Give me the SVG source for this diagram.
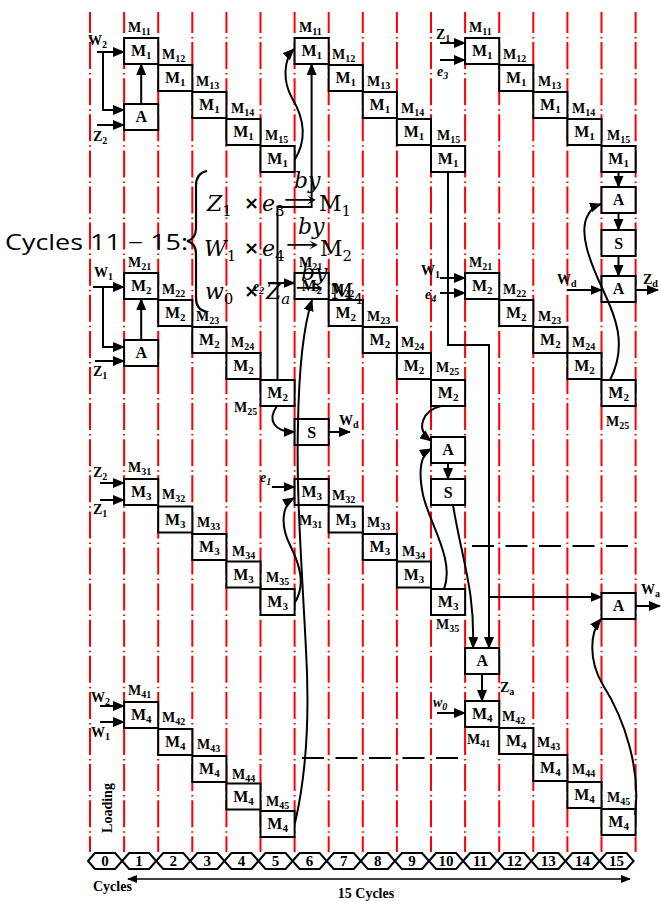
<svg xmlns="http://www.w3.org/2000/svg" width="661" height="901" viewBox="0 0 661 901">
<style>
.vl{stroke:#ff0000;stroke-width:2;stroke-dasharray:27 4 1.5 3.6;stroke-dashoffset:6}
.bx{fill:#fff;stroke:#000;stroke-width:2}
.bt{font-family:"Liberation Serif",serif;font-weight:bold;font-size:16px;text-anchor:middle}
.bs{font-size:11px}
.lb{font-family:"Liberation Serif",serif;font-weight:bold;font-size:14px}
.ls{font-size:10px}
.it{font-style:italic}
.cn{fill:none;stroke:#000;stroke-width:2}
.ar{marker-end:url(#ah)}
.hx{fill:#fff;stroke:#000;stroke-width:2}
.hn{font-family:"Liberation Serif",serif;font-weight:bold;font-size:15px;text-anchor:middle}
.dl{fill:none;stroke:#000;stroke-width:2;stroke-dasharray:22 11.5}
.eq{font-family:"DejaVu Serif",serif;font-size:22px}
.ei{font-style:italic}
.es{font-size:15px}
.ex{font-family:"DejaVu Sans",sans-serif;font-weight:bold;font-size:18px}
</style>
<defs>
<marker id="ah" markerUnits="userSpaceOnUse" markerWidth="12" markerHeight="10" refX="11" refY="5" orient="auto"><path d="M0,0 L12,5 L0,10 z" fill="#000"/></marker>
<marker id="sa" markerUnits="userSpaceOnUse" markerWidth="10" markerHeight="8" refX="9" refY="4" orient="auto-start-reverse"><path d="M0,0 L10,4 L0,8 z" fill="#000"/></marker>
</defs>
<rect width="661" height="901" fill="#fff"/>
<g id="grid">
<line class="vl" x1="90" y1="12" x2="90" y2="852"/>
<line class="vl" x1="124.1" y1="12" x2="124.1" y2="852"/>
<line class="vl" x1="158.2" y1="12" x2="158.2" y2="852"/>
<line class="vl" x1="192.3" y1="12" x2="192.3" y2="852"/>
<line class="vl" x1="226.4" y1="12" x2="226.4" y2="852"/>
<line class="vl" x1="260.5" y1="12" x2="260.5" y2="852"/>
<line class="vl" x1="294.6" y1="12" x2="294.6" y2="852"/>
<line class="vl" x1="328.7" y1="12" x2="328.7" y2="852"/>
<line class="vl" x1="362.8" y1="12" x2="362.8" y2="852"/>
<line class="vl" x1="396.9" y1="12" x2="396.9" y2="852"/>
<line class="vl" x1="431" y1="12" x2="431" y2="852"/>
<line class="vl" x1="465.1" y1="12" x2="465.1" y2="852"/>
<line class="vl" x1="499.2" y1="12" x2="499.2" y2="852"/>
<line class="vl" x1="533.3" y1="12" x2="533.3" y2="852"/>
<line class="vl" x1="567.4" y1="12" x2="567.4" y2="852"/>
<line class="vl" x1="601.5" y1="12" x2="601.5" y2="852"/>
<line class="vl" x1="635.6" y1="12" x2="635.6" y2="852"/>
</g>

<!-- Row 1 -->
<g id="r1a1"><rect class="bx" x="124.1" y="38" width="34.1" height="26"/><text class="bt" x="141.2" y="56">M<tspan class="bs" dy="3">1</tspan></text><text class="lb" x="128" y="32">M<tspan class="ls" dy="3">11</tspan></text></g>
<g id="r1a2"><rect class="bx" x="158.2" y="65" width="34.1" height="26"/><text class="bt" x="175.3" y="83">M<tspan class="bs" dy="3">1</tspan></text><text class="lb" x="162" y="59">M<tspan class="ls" dy="3">12</tspan></text></g>
<g id="r1a3"><rect class="bx" x="192.3" y="92" width="34.1" height="26"/><text class="bt" x="209.4" y="110">M<tspan class="bs" dy="3">1</tspan></text><text class="lb" x="196" y="86">M<tspan class="ls" dy="3">13</tspan></text></g>
<g id="r1a4"><rect class="bx" x="226.4" y="119" width="34.1" height="26"/><text class="bt" x="243.5" y="137">M<tspan class="bs" dy="3">1</tspan></text><text class="lb" x="231" y="113">M<tspan class="ls" dy="3">14</tspan></text></g>
<g id="r1a5"><rect class="bx" x="260.5" y="146" width="34.1" height="26"/><text class="bt" x="277.6" y="164">M<tspan class="bs" dy="3">1</tspan></text><text class="lb" x="265" y="140">M<tspan class="ls" dy="3">15</tspan></text></g>
<g id="r1b1"><rect class="bx" x="294.6" y="38" width="34.1" height="26"/><text class="bt" x="311.7" y="56">M<tspan class="bs" dy="3">1</tspan></text><text class="lb" x="299" y="32">M<tspan class="ls" dy="3">11</tspan></text></g>
<g id="r1b2"><rect class="bx" x="328.7" y="65" width="34.1" height="26"/><text class="bt" x="345.8" y="83">M<tspan class="bs" dy="3">1</tspan></text><text class="lb" x="332" y="59">M<tspan class="ls" dy="3">12</tspan></text></g>
<g id="r1b3"><rect class="bx" x="362.8" y="92" width="34.1" height="26"/><text class="bt" x="379.9" y="110">M<tspan class="bs" dy="3">1</tspan></text><text class="lb" x="367" y="86">M<tspan class="ls" dy="3">13</tspan></text></g>
<g id="r1b4"><rect class="bx" x="396.9" y="119" width="34.1" height="26"/><text class="bt" x="414" y="137">M<tspan class="bs" dy="3">1</tspan></text><text class="lb" x="401" y="113">M<tspan class="ls" dy="3">14</tspan></text></g>
<g id="r1b5"><rect class="bx" x="431" y="146" width="34.1" height="26"/><text class="bt" x="448.1" y="164">M<tspan class="bs" dy="3">1</tspan></text><text class="lb" x="437" y="140">M<tspan class="ls" dy="3">15</tspan></text></g>
<g id="r1c1"><rect class="bx" x="465.1" y="38" width="34.1" height="26"/><text class="bt" x="482.2" y="56">M<tspan class="bs" dy="3">1</tspan></text><text class="lb" x="469" y="32">M<tspan class="ls" dy="3">11</tspan></text></g>
<g id="r1c2"><rect class="bx" x="499.2" y="65" width="34.1" height="26"/><text class="bt" x="516.3" y="83">M<tspan class="bs" dy="3">1</tspan></text><text class="lb" x="503" y="59">M<tspan class="ls" dy="3">12</tspan></text></g>
<g id="r1c3"><rect class="bx" x="533.3" y="92" width="34.1" height="26"/><text class="bt" x="550.4" y="110">M<tspan class="bs" dy="3">1</tspan></text><text class="lb" x="538" y="86">M<tspan class="ls" dy="3">13</tspan></text></g>
<g id="r1c4"><rect class="bx" x="567.4" y="119" width="34.1" height="26"/><text class="bt" x="584.5" y="137">M<tspan class="bs" dy="3">1</tspan></text><text class="lb" x="572" y="113">M<tspan class="ls" dy="3">14</tspan></text></g>
<g id="r1c5"><rect class="bx" x="601.5" y="146" width="34.1" height="26"/><text class="bt" x="618.6" y="164">M<tspan class="bs" dy="3">1</tspan></text><text class="lb" x="607" y="140">M<tspan class="ls" dy="3">15</tspan></text></g>

<!-- Row 2 -->
<g id="r2a1"><rect class="bx" x="124.1" y="273" width="34.1" height="26"/><text class="bt" x="141.2" y="291">M<tspan class="bs" dy="3">2</tspan></text><text class="lb" x="128" y="267">M<tspan class="ls" dy="3">21</tspan></text></g>
<g id="r2a2"><rect class="bx" x="158.2" y="300" width="34.1" height="26"/><text class="bt" x="175.3" y="318">M<tspan class="bs" dy="3">2</tspan></text><text class="lb" x="162" y="294">M<tspan class="ls" dy="3">22</tspan></text></g>
<g id="r2a3"><rect class="bx" x="192.3" y="327" width="34.1" height="26"/><text class="bt" x="209.4" y="345">M<tspan class="bs" dy="3">2</tspan></text><text class="lb" x="196" y="321">M<tspan class="ls" dy="3">23</tspan></text></g>
<g id="r2a4"><rect class="bx" x="226.4" y="353" width="34.1" height="26"/><text class="bt" x="243.5" y="371">M<tspan class="bs" dy="3">2</tspan></text><text class="lb" x="231" y="347">M<tspan class="ls" dy="3">24</tspan></text></g>
<g id="r2a5"><rect class="bx" x="260.5" y="380" width="34.1" height="26"/><text class="bt" x="277.6" y="398">M<tspan class="bs" dy="3">2</tspan></text><text class="lb" x="234" y="412">M<tspan class="ls" dy="3">25</tspan></text></g>
<g id="r2b1"><rect class="bx" x="294.6" y="273" width="34.1" height="26"/><text class="bt" x="311.7" y="291">M<tspan class="bs" dy="3">2</tspan></text><text class="lb" x="299" y="267">M<tspan class="ls" dy="3">21</tspan></text></g>
<g id="r2b2"><rect class="bx" x="328.7" y="300" width="34.1" height="26"/><text class="bt" x="345.8" y="318">M<tspan class="bs" dy="3">2</tspan></text><text class="lb" x="331" y="294">M<tspan class="ls" dy="3">22</tspan></text></g>
<g id="r2b3"><rect class="bx" x="362.8" y="327" width="34.1" height="26"/><text class="bt" x="379.9" y="345">M<tspan class="bs" dy="3">2</tspan></text><text class="lb" x="367" y="321">M<tspan class="ls" dy="3">23</tspan></text></g>
<g id="r2b4"><rect class="bx" x="396.9" y="353" width="34.1" height="26"/><text class="bt" x="414" y="371">M<tspan class="bs" dy="3">2</tspan></text><text class="lb" x="401" y="347">M<tspan class="ls" dy="3">24</tspan></text></g>
<g id="r2b5"><rect class="bx" x="431" y="380" width="34.1" height="26"/><text class="bt" x="448.1" y="398">M<tspan class="bs" dy="3">2</tspan></text><text class="lb" x="436" y="372">M<tspan class="ls" dy="3">25</tspan></text></g>
<g id="r2c1"><rect class="bx" x="465.1" y="273" width="34.1" height="26"/><text class="bt" x="482.2" y="291">M<tspan class="bs" dy="3">2</tspan></text><text class="lb" x="469" y="267">M<tspan class="ls" dy="3">21</tspan></text></g>
<g id="r2c2"><rect class="bx" x="499.2" y="300" width="34.1" height="26"/><text class="bt" x="516.3" y="318">M<tspan class="bs" dy="3">2</tspan></text><text class="lb" x="503" y="294">M<tspan class="ls" dy="3">22</tspan></text></g>
<g id="r2c3"><rect class="bx" x="533.3" y="327" width="34.1" height="26"/><text class="bt" x="550.4" y="345">M<tspan class="bs" dy="3">2</tspan></text><text class="lb" x="538" y="321">M<tspan class="ls" dy="3">23</tspan></text></g>
<g id="r2c4"><rect class="bx" x="567.4" y="353" width="34.1" height="26"/><text class="bt" x="584.5" y="371">M<tspan class="bs" dy="3">2</tspan></text><text class="lb" x="572" y="347">M<tspan class="ls" dy="3">24</tspan></text></g>
<g id="r2c5"><rect class="bx" x="601.5" y="380" width="34.1" height="26"/><text class="bt" x="618.6" y="398">M<tspan class="bs" dy="3">2</tspan></text><text class="lb" x="606" y="426">M<tspan class="ls" dy="3">25</tspan></text></g>

<!-- Row 3 -->
<g id="r3a1"><rect class="bx" x="124.1" y="479" width="34.1" height="26"/><text class="bt" x="141.2" y="497">M<tspan class="bs" dy="3">3</tspan></text><text class="lb" x="128" y="472">M<tspan class="ls" dy="3">31</tspan></text></g>
<g id="r3a2"><rect class="bx" x="158.2" y="506.5" width="34.1" height="26"/><text class="bt" x="175.3" y="524.5">M<tspan class="bs" dy="3">3</tspan></text><text class="lb" x="162" y="499">M<tspan class="ls" dy="3">32</tspan></text></g>
<g id="r3a3"><rect class="bx" x="192.3" y="534" width="34.1" height="26"/><text class="bt" x="209.4" y="552">M<tspan class="bs" dy="3">3</tspan></text><text class="lb" x="197" y="527">M<tspan class="ls" dy="3">33</tspan></text></g>
<g id="r3a4"><rect class="bx" x="226.4" y="561.5" width="34.1" height="26"/><text class="bt" x="243.5" y="579.5">M<tspan class="bs" dy="3">3</tspan></text><text class="lb" x="232" y="556">M<tspan class="ls" dy="3">34</tspan></text></g>
<g id="r3a5"><rect class="bx" x="260.5" y="589" width="34.1" height="26"/><text class="bt" x="277.6" y="607">M<tspan class="bs" dy="3">3</tspan></text><text class="lb" x="266" y="582">M<tspan class="ls" dy="3">35</tspan></text></g>
<g id="r3b1"><rect class="bx" x="294.6" y="479" width="34.1" height="26"/><text class="bt" x="311.7" y="497">M<tspan class="bs" dy="3">3</tspan></text><text class="lb" x="299" y="525">M<tspan class="ls" dy="3">31</tspan></text></g>
<g id="r3b2"><rect class="bx" x="328.7" y="506.5" width="34.1" height="26"/><text class="bt" x="345.8" y="524.5">M<tspan class="bs" dy="3">3</tspan></text><text class="lb" x="332" y="500">M<tspan class="ls" dy="3">32</tspan></text></g>
<g id="r3b3"><rect class="bx" x="362.8" y="534" width="34.1" height="26"/><text class="bt" x="379.9" y="552">M<tspan class="bs" dy="3">3</tspan></text><text class="lb" x="367" y="527">M<tspan class="ls" dy="3">33</tspan></text></g>
<g id="r3b4"><rect class="bx" x="396.9" y="561.5" width="34.1" height="26"/><text class="bt" x="414" y="579.5">M<tspan class="bs" dy="3">3</tspan></text><text class="lb" x="402" y="556">M<tspan class="ls" dy="3">34</tspan></text></g>
<g id="r3b5"><rect class="bx" x="431" y="589" width="34.1" height="26"/><text class="bt" x="448.1" y="607">M<tspan class="bs" dy="3">3</tspan></text><text class="lb" x="436" y="629">M<tspan class="ls" dy="3">35</tspan></text></g>

<!-- Row 4 -->
<g id="r4a1"><rect class="bx" x="124.1" y="702" width="34.1" height="26"/><text class="bt" x="141.2" y="720">M<tspan class="bs" dy="3">4</tspan></text><text class="lb" x="128" y="695">M<tspan class="ls" dy="3">41</tspan></text></g>
<g id="r4a2"><rect class="bx" x="158.2" y="729" width="34.1" height="26"/><text class="bt" x="175.3" y="747">M<tspan class="bs" dy="3">4</tspan></text><text class="lb" x="162" y="722">M<tspan class="ls" dy="3">42</tspan></text></g>
<g id="r4a3"><rect class="bx" x="192.3" y="756" width="34.1" height="26"/><text class="bt" x="209.4" y="774">M<tspan class="bs" dy="3">4</tspan></text><text class="lb" x="197" y="749">M<tspan class="ls" dy="3">43</tspan></text></g>
<g id="r4a4"><rect class="bx" x="226.4" y="783.5" width="34.1" height="26"/><text class="bt" x="243.5" y="801.5">M<tspan class="bs" dy="3">4</tspan></text><text class="lb" x="232" y="779">M<tspan class="ls" dy="3">44</tspan></text></g>
<g id="r4a5"><rect class="bx" x="260.5" y="811" width="34.1" height="26"/><text class="bt" x="277.6" y="829">M<tspan class="bs" dy="3">4</tspan></text><text class="lb" x="266" y="806">M<tspan class="ls" dy="3">45</tspan></text></g>
<g id="r4b1"><rect class="bx" x="465.1" y="701" width="34.1" height="26"/><text class="bt" x="482.2" y="719">M<tspan class="bs" dy="3">4</tspan></text><text class="lb" x="467" y="744">M<tspan class="ls" dy="3">41</tspan></text></g>
<g id="r4b2"><rect class="bx" x="499.2" y="728" width="34.1" height="26"/><text class="bt" x="516.3" y="746">M<tspan class="bs" dy="3">4</tspan></text><text class="lb" x="502" y="721">M<tspan class="ls" dy="3">42</tspan></text></g>
<g id="r4b3"><rect class="bx" x="533.3" y="755" width="34.1" height="26"/><text class="bt" x="550.4" y="773">M<tspan class="bs" dy="3">4</tspan></text><text class="lb" x="537" y="747">M<tspan class="ls" dy="3">43</tspan></text></g>
<g id="r4b4"><rect class="bx" x="567.4" y="782" width="34.1" height="26"/><text class="bt" x="584.5" y="800">M<tspan class="bs" dy="3">4</tspan></text><text class="lb" x="572" y="774">M<tspan class="ls" dy="3">44</tspan></text></g>
<g id="r4b5"><rect class="bx" x="601.5" y="809" width="34.1" height="26"/><text class="bt" x="618.6" y="827">M<tspan class="bs" dy="3">4</tspan></text><text class="lb" x="607" y="802">M<tspan class="ls" dy="3">45</tspan></text></g>

<!-- A / S operators -->
<g id="a1"><rect class="bx" x="124.1" y="104" width="34.1" height="26"/><text class="bt" x="141.2" y="122" font-size="14">A</text></g>
<g id="a2"><rect class="bx" x="124.1" y="340" width="34.1" height="26"/><text class="bt" x="141.2" y="358" font-size="14">A</text></g>
<g id="s1"><rect class="bx" x="294.6" y="419" width="34.1" height="26"/><text class="bt" x="311.7" y="438" font-size="18">S</text></g>
<g id="a3"><rect class="bx" x="431" y="437" width="34.1" height="26"/><text class="bt" x="448.1" y="455" font-size="14">A</text></g>
<g id="s2"><rect class="bx" x="431" y="479" width="34.1" height="26"/><text class="bt" x="448.1" y="498" font-size="18">S</text></g>
<g id="a4"><rect class="bx" x="465.1" y="648" width="34.1" height="26"/><text class="bt" x="482.2" y="666" font-size="14">A</text></g>
<g id="a5"><rect class="bx" x="601.5" y="593" width="34.1" height="26"/><text class="bt" x="618.6" y="611" font-size="14">A</text></g>
<g id="a6"><rect class="bx" x="601.5" y="187" width="34.1" height="26"/><text class="bt" x="618.6" y="205" font-size="14">A</text></g>
<g id="s3"><rect class="bx" x="601.5" y="230" width="34.1" height="26"/><text class="bt" x="618.6" y="249" font-size="18">S</text></g>
<g id="a7"><rect class="bx" x="601.5" y="276" width="34.1" height="26"/><text class="bt" x="618.6" y="294" font-size="14">A</text></g>

<!-- connectors -->
<g id="connectors">
<path class="cn ar" d="M97,52 H124"/>
<path class="cn ar" d="M103,52 V110 H124"/>
<path class="cn ar" d="M97,125 H124"/>
<path class="cn ar" d="M141.2,104 V64"/>
<path class="cn ar" d="M294.6,160 C307,140 304,118 292,98 C283,82 283,60 294,49"/>
<path class="cn ar" d="M277.5,380 V207 H311.6 V64"/>
<path class="cn ar" d="M440,43 H465"/>
<path class="cn ar" d="M440,60 H465"/>
<path class="cn ar" d="M618.5,172 V187"/>
<path class="cn ar" d="M618.5,213 V230"/>
<path class="cn ar" d="M618.5,256 V276"/>
<path class="cn ar" d="M567,290 H601.5"/>
<path class="cn ar" d="M635.6,290 H658"/>
<path class="cn ar" d="M610,380 C628,345 615,315 603,290 C590,262 578,232 588,215 C591,209 595,206 601,204"/>
<path class="cn ar" d="M93,287 H124"/>
<path class="cn ar" d="M103,287 V347 H124"/>
<path class="cn ar" d="M95,361 H124"/>
<path class="cn ar" d="M141.2,340 V299"/>
<path class="cn ar" d="M268,283 H294.6"/>
<path class="cn ar" d="M277,406 C267,420 274,432 294.6,432"/>
<path class="cn ar" d="M328.7,432 H350"/>
<path class="cn ar" d="M295,823 C305,780 310,720 306,650 C302,570 296,490 298,425 C299,360 304,325 312,300"/>
<path class="cn ar" d="M440,278 H465"/>
<path class="cn ar" d="M440,293 H465"/>
<path class="cn ar" d="M448,172 V345 H489 V648"/>
<path class="cn ar" d="M489,597 H601.5"/>
<path class="cn ar" d="M441,406 C424,410 414,428 431,441"/>
<path class="cn ar" d="M448,463 V479"/>
<path class="cn ar" d="M453,505 C462,560 475,590 473,648"/>
<path class="cn ar" d="M444,589 C455,560 430,525 423,495 C418,470 420,455 431,449"/>
<path class="cn ar" d="M100,483 H124"/>
<path class="cn ar" d="M100,500 H124"/>
<path class="cn ar" d="M272,487 H294.6"/>
<path class="cn ar" d="M294.6,603 C306,585 300,565 290,545 C280,525 282,505 294,498"/>
<path class="cn ar" d="M482,674 V701"/>
<path class="cn ar" d="M437,713 H465"/>
<path class="cn ar" d="M635.6,606 H660"/>
<path class="cn ar" d="M635,815 C641,770 625,720 603,685 C588,660 590,632 601,619"/>
<path class="cn ar" d="M100,706 H124"/>
<path class="cn ar" d="M100,722 H124"/>
<path class="dl" d="M472,546 H630"/>
<path class="dl" d="M302,758 H458"/>
</g>

<!-- input / output labels -->
<g id="labels">
<text class="lb" x="88" y="45">W<tspan class="ls" dy="3">2</tspan></text>
<text class="lb" x="93" y="141">Z<tspan class="ls" dy="3">2</tspan></text>
<text class="lb" x="436" y="39">Z<tspan class="ls" dy="3">1</tspan></text>
<text class="lb it" x="437" y="76">e<tspan class="ls" dy="3">3</tspan></text>
<text class="lb" x="421" y="275">W<tspan class="ls" dy="3">1</tspan></text>
<text class="lb it" x="425" y="299">e<tspan class="ls" dy="3">4</tspan></text>
<text class="lb" x="557" y="284">W<tspan class="ls" dy="3">d</tspan></text>
<text class="lb" x="643" y="284">Z<tspan class="ls" dy="3">d</tspan></text>
<text class="lb it" x="253" y="291" font-size="12">e<tspan class="ls" dy="3">2</tspan></text>
<text class="lb" x="339" y="425">W<tspan class="ls" dy="3">d</tspan></text>
<text class="lb" x="94" y="277">W<tspan class="ls" dy="3">1</tspan></text>
<text class="lb" x="93" y="376">Z<tspan class="ls" dy="3">1</tspan></text>
<text class="lb" x="93" y="477">Z<tspan class="ls" dy="3">2</tspan></text>
<text class="lb" x="93" y="514">Z<tspan class="ls" dy="3">1</tspan></text>
<text class="lb it" x="260" y="482">e<tspan class="ls" dy="3">1</tspan></text>
<text class="lb" x="641" y="594">W<tspan class="ls" dy="3">a</tspan></text>
<text class="lb" x="500" y="692">Z<tspan class="ls" dy="3">a</tspan></text>
<text class="lb it" x="433" y="707">w<tspan class="ls" dy="3">0</tspan></text>
<text class="lb" x="91" y="702">W<tspan class="ls" dy="3">2</tspan></text>
<text class="lb" x="91" y="737">W<tspan class="ls" dy="3">1</tspan></text>
<text class="lb" transform="translate(112,808) rotate(-90)" text-anchor="middle">Loading</text>
</g>

<!-- cycle axis -->
<g id="axis">
<polygon class="hx" points="88,861 95,853 115.1,853 122.1,861 115.1,869 95,869"/>
<polygon class="hx" points="122.1,861 129.1,853 149.2,853 156.2,861 149.2,869 129.1,869"/>
<polygon class="hx" points="156.2,861 163.2,853 183.3,853 190.3,861 183.3,869 163.2,869"/>
<polygon class="hx" points="190.3,861 197.3,853 217.4,853 224.4,861 217.4,869 197.3,869"/>
<polygon class="hx" points="224.4,861 231.4,853 251.5,853 258.5,861 251.5,869 231.4,869"/>
<polygon class="hx" points="258.5,861 265.5,853 285.6,853 292.6,861 285.6,869 265.5,869"/>
<polygon class="hx" points="292.6,861 299.6,853 319.7,853 326.7,861 319.7,869 299.6,869"/>
<polygon class="hx" points="326.7,861 333.7,853 353.8,853 360.8,861 353.8,869 333.7,869"/>
<polygon class="hx" points="360.8,861 367.8,853 387.9,853 394.9,861 387.9,869 367.8,869"/>
<polygon class="hx" points="394.9,861 401.9,853 422,853 429,861 422,869 401.9,869"/>
<polygon class="hx" points="429,861 436,853 456.1,853 463.1,861 456.1,869 436,869"/>
<polygon class="hx" points="463.1,861 470.1,853 490.2,853 497.2,861 490.2,869 470.1,869"/>
<polygon class="hx" points="497.2,861 504.2,853 524.3,853 531.3,861 524.3,869 504.2,869"/>
<polygon class="hx" points="531.3,861 538.3,853 558.4,853 565.4,861 558.4,869 538.3,869"/>
<polygon class="hx" points="565.4,861 572.4,853 592.5,853 599.5,861 592.5,869 572.4,869"/>
<polygon class="hx" points="599.5,861 606.5,853 626.6,853 633.6,861 626.6,869 606.5,869"/>
<text class="hn" x="105" y="866">0</text>
<text class="hn" x="139.1" y="866">1</text>
<text class="hn" x="173.2" y="866">2</text>
<text class="hn" x="207.3" y="866">3</text>
<text class="hn" x="241.4" y="866">4</text>
<text class="hn" x="275.5" y="866">5</text>
<text class="hn" x="309.6" y="866">6</text>
<text class="hn" x="343.7" y="866">7</text>
<text class="hn" x="377.8" y="866">8</text>
<text class="hn" x="411.9" y="866">9</text>
<text class="hn" x="446" y="866">10</text>
<text class="hn" x="480.1" y="866">11</text>
<text class="hn" x="514.2" y="866">12</text>
<text class="hn" x="548.3" y="866">13</text>
<text class="hn" x="582.4" y="866">14</text>
<text class="hn" x="616.5" y="866">15</text>
<line x1="128" y1="879" x2="630" y2="879" stroke="#000" stroke-width="1.5" marker-start="url(#sa)" marker-end="url(#sa)"/>
<text class="lb" x="93" y="891" font-size="14">Cycles</text>
<text class="lb" x="366" y="898" font-size="14" text-anchor="middle">15 Cycles</text>
</g>

<!-- equation overlay -->
<g id="equation">
<text x="5" y="250" font-family="'Open Sans',sans-serif" font-size="21" textLength="183" lengthAdjust="spacingAndGlyphs">Cycles 11 − 15:</text>
<path d="M207,171 Q196,173 196,186 L196,228 Q196,239 187,241 Q196,243 196,254 L196,298 Q196,310 207,312" fill="none" stroke="#000" stroke-width="2.2"/>
<text class="eq ei" x="207" y="211">Z<tspan class="es" font-style="normal" dy="5">1</tspan></text>
<text class="ex" x="244" y="209">×</text>
<text class="eq ei" x="262" y="211">e<tspan class="es" font-style="normal" dy="5">3</tspan></text>
<text class="eq" x="283" y="207" textLength="34" lengthAdjust="spacingAndGlyphs">→</text>
<text class="eq ei" x="294" y="188" font-size="17">by</text>
<text class="eq" x="319" y="211">M<tspan class="es" dy="5">1</tspan></text>

<text class="eq ei" x="204" y="256">W<tspan class="es" font-style="normal" dy="5">1</tspan></text>
<text class="ex" x="244" y="254">×</text>
<text class="eq ei" x="262" y="256">e<tspan class="es" font-style="normal" dy="5">4</tspan></text>
<text class="eq" x="285" y="252" textLength="34" lengthAdjust="spacingAndGlyphs">→</text>
<text class="eq ei" x="298" y="234" font-size="17">by</text>
<text class="eq" x="320" y="256">M<tspan class="es" dy="5">2</tspan></text>

<text class="eq ei" x="205" y="299">w<tspan class="es" font-style="normal" dy="5">0</tspan></text>
<text class="ex" x="244" y="297">×</text>
<text class="eq ei" x="266" y="299">Z<tspan class="es" dy="5">a</tspan></text>
<text class="eq" x="295" y="295" textLength="28" lengthAdjust="spacingAndGlyphs">→</text>
<text class="eq ei" x="301" y="280" font-size="17">by</text>
<text class="eq" x="331" y="299">M<tspan class="es" dy="5">4</tspan></text>
</g>
</svg>
